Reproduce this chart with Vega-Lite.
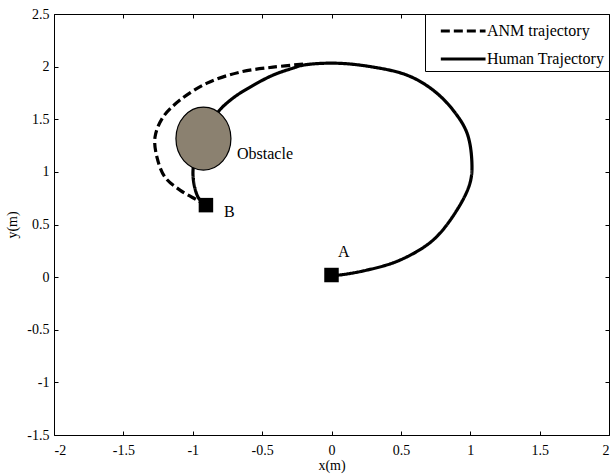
{
  "$schema": "https://vega.github.io/schema/vega-lite/v6.json",
  "width": 555,
  "height": 421,
  "autosize": "none",
  "padding": {"left": 54, "top": 14, "right": 1, "bottom": 40},
  "background": "white",
  "config": {
    "view": {"stroke": "black", "strokeWidth": 1},
    "font": "Liberation Serif",
    "axis": {
      "grid": false,
      "domain": false,
      "tickColor": "black",
      "tickSize": -4,
      "labelFont": "Liberation Serif",
      "labelFontSize": 14,
      "labelColor": "black",
      "titleFont": "Liberation Serif",
      "titleFontSize": 14,
      "titleFontWeight": "normal",
      "titleColor": "black"
    },
    "legend": {
      "labelFont": "Liberation Serif",
      "labelFontSize": 16,
      "labelColor": "black"
    }
  },
  "resolve": {"axis": {"x": "independent", "y": "independent"}},
  "datasets": {
    "paths": [
      {"series": "Human Trajectory", "i": 0, "x": 0.0, "y": 0.02},
      {"series": "Human Trajectory", "i": 1, "x": 0.047, "y": 0.019},
      {"series": "Human Trajectory", "i": 2, "x": 0.256, "y": 0.067},
      {"series": "Human Trajectory", "i": 3, "x": 0.494, "y": 0.162},
      {"series": "Human Trajectory", "i": 4, "x": 0.732, "y": 0.352},
      {"series": "Human Trajectory", "i": 5, "x": 0.904, "y": 0.637},
      {"series": "Human Trajectory", "i": 6, "x": 0.998, "y": 0.893},
      {"series": "Human Trajectory", "i": 7, "x": 1.012, "y": 1.083},
      {"series": "Human Trajectory", "i": 8, "x": 0.977, "y": 1.368},
      {"series": "Human Trajectory", "i": 9, "x": 0.876, "y": 1.587},
      {"series": "Human Trajectory", "i": 10, "x": 0.732, "y": 1.777},
      {"series": "Human Trajectory", "i": 11, "x": 0.544, "y": 1.919},
      {"series": "Human Trajectory", "i": 12, "x": 0.256, "y": 2.005},
      {"series": "Human Trajectory", "i": 13, "x": 0.011, "y": 2.033},
      {"series": "Human Trajectory", "i": 14, "x": -0.205, "y": 2.014},
      {"series": "Human Trajectory", "i": 15, "x": -0.277, "y": 1.986},
      {"series": "Human Trajectory", "i": 16, "x": -0.422, "y": 1.919},
      {"series": "Human Trajectory", "i": 17, "x": -0.587, "y": 1.805},
      {"series": "Human Trajectory", "i": 18, "x": -0.71, "y": 1.701},
      {"series": "Human Trajectory", "i": 19, "x": -0.818, "y": 1.568},
      {"series": "Human Trajectory", "i": 20, "x": -0.926, "y": 1.321},
      {"series": "Human Trajectory", "i": 21, "x": -0.998, "y": 1.017},
      {"series": "Human Trajectory", "i": 22, "x": -0.962, "y": 0.76},
      {"series": "Human Trajectory", "i": 23, "x": -0.905, "y": 0.684},
      {"series": "ANM trajectory", "i": 0, "x": -0.205, "y": 2.024},
      {"series": "ANM trajectory", "i": 1, "x": -0.422, "y": 1.995},
      {"series": "ANM trajectory", "i": 2, "x": -0.659, "y": 1.948},
      {"series": "ANM trajectory", "i": 3, "x": -0.897, "y": 1.843},
      {"series": "ANM trajectory", "i": 4, "x": -1.092, "y": 1.682},
      {"series": "ANM trajectory", "i": 5, "x": -1.214, "y": 1.52},
      {"series": "ANM trajectory", "i": 6, "x": -1.272, "y": 1.33},
      {"series": "ANM trajectory", "i": 7, "x": -1.258, "y": 1.14},
      {"series": "ANM trajectory", "i": 8, "x": -1.2, "y": 0.95},
      {"series": "ANM trajectory", "i": 9, "x": -1.092, "y": 0.827},
      {"series": "ANM trajectory", "i": 10, "x": -0.969, "y": 0.732},
      {"series": "ANM trajectory", "i": 11, "x": -0.905, "y": 0.684}
    ],
    "markers": [
      {"name": "A", "x": 0.0, "y": 0.02},
      {"name": "B", "x": -0.905, "y": 0.684}
    ],
    "labels": [
      {"text": "A", "x": 0.047, "y": 0.238},
      {"text": "B", "x": -0.775, "y": 0.618},
      {"text": "Obstacle", "x": -0.681, "y": 1.169}
    ],
    "obstacle": [
      {"name": "Obstacle", "x": -0.923, "y": 1.316}
    ]
  },
  "layer": [
    {
      "data": {"name": "paths"},
      "mark": {"type": "line", "strokeWidth": 3.2, "color": "black", "clip": true, "interpolate": "catmull-rom"},
      "encoding": {
        "x": {"field": "x", "type": "quantitative", "scale": {"domain": [-2, 2], "nice": false, "zero": false}, "axis": {"orient": "bottom", "title": "x(m)", "labelExpr": "toString(datum.value)", "values": [-2, -1.5, -1, -0.5, 0, 0.5, 1, 1.5, 2], "labelPadding": 12, "titlePadding": 1}},
        "y": {"field": "y", "type": "quantitative", "scale": {"domain": [-1.5, 2.5], "nice": false, "zero": false}, "axis": {"orient": "left", "title": "y(m)", "labelExpr": "toString(datum.value)", "values": [-1.5, -1, -0.5, 0, 0.5, 1, 1.5, 2, 2.5], "labelPadding": 9, "titlePadding": 7}},
        "detail": {"field": "series"},
        "order": {"field": "i", "type": "quantitative"},
        "strokeDash": {
          "field": "series",
          "type": "nominal",
          "scale": {"domain": ["ANM trajectory", "Human Trajectory"], "range": [[9, 4], [1, 0]]},
          "legend": {
            "title": null,
            "orient": "top-right",
            "offset": 0,
            "strokeColor": "black",
            "fillColor": "white",
            "padding": 4,
            "symbolType": "M -1 0 L 3 0",
            "symbolSize": 500,
            "symbolStrokeWidth": 3.2,
            "symbolStrokeColor": "black",
            "symbolFillColor": "transparent",
            "symbolOffset": 10,
            "labelOffset": 22,
            "rowPadding": 7,
            "cornerRadius": 0
          }
        }
      }
    },
    {
      "data": {"name": "obstacle"},
      "mark": {
        "type": "point",
        "shape": "M -0.873 0 A 0.873 1 0 1 1 0.873 0 A 0.873 1 0 1 1 -0.873 0 Z",
        "filled": true,
        "fill": "#8b8170",
        "fillOpacity": 1,
        "stroke": "black",
        "strokeWidth": 1.2,
        "size": 3969,
        "opacity": 1
      },
      "encoding": {
        "x": {"field": "x", "type": "quantitative", "axis": {"orient": "top", "labels": false, "title": null, "values": [-2, -1.5, -1, -0.5, 0, 0.5, 1, 1.5, 2]}},
        "y": {"field": "y", "type": "quantitative", "axis": {"orient": "right", "labels": false, "title": null, "values": [-1.5, -1, -0.5, 0, 0.5, 1, 1.5, 2, 2.5]}}
      }
    },
    {
      "data": {"name": "markers"},
      "mark": {"type": "square", "filled": true, "color": "black", "size": 210, "opacity": 1},
      "encoding": {
        "x": {"field": "x", "type": "quantitative", "axis": null},
        "y": {"field": "y", "type": "quantitative", "axis": null}
      }
    },
    {
      "data": {"name": "labels"},
      "mark": {"type": "text", "align": "left", "baseline": "middle", "font": "Liberation Serif", "fontSize": 16, "color": "black"},
      "encoding": {
        "x": {"field": "x", "type": "quantitative", "axis": null},
        "y": {"field": "y", "type": "quantitative", "axis": null},
        "text": {"field": "text"}
      }
    }
  ]
}
